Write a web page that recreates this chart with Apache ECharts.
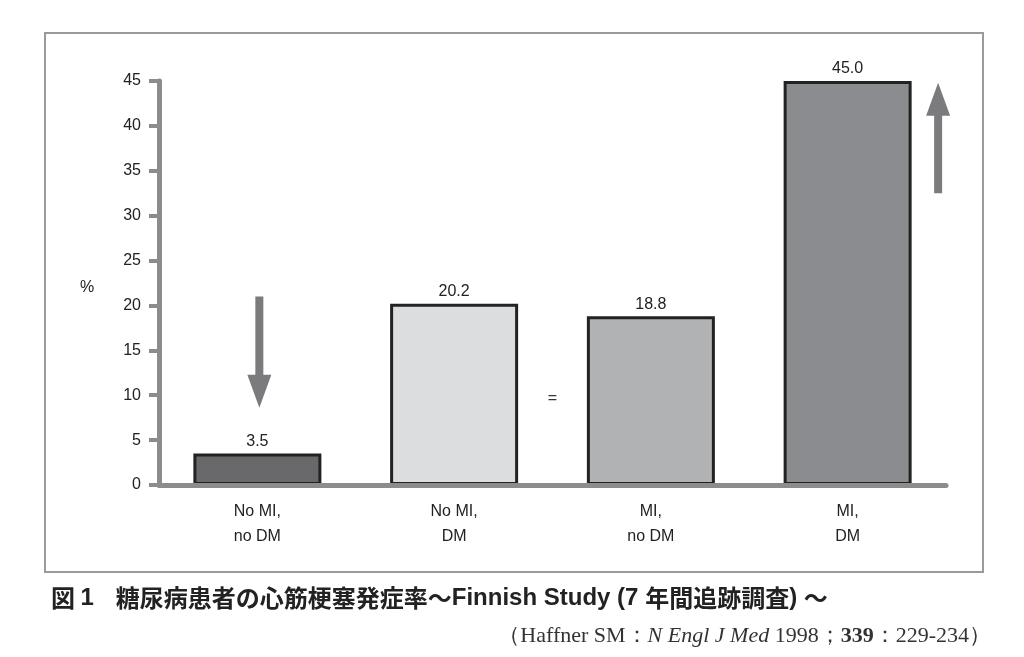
<!DOCTYPE html>
<html>
<head>
<meta charset="utf-8">
<script src="https://cdn.jsdelivr.net/npm/echarts@6/dist/echarts.min.js"></script>
<style>html,body{margin:0;padding:0;background:#fff;}#chart{width:1024px;height:657px;}</style>
</head>
<body>
<div id="chart"></div>
<script>
// Data
var categories = ['No MI,\nno DM', 'No MI,\nDM', 'MI,\nno DM', 'MI,\nDM'];
var values = [3.5, 20.2, 18.8, 45.0];
var barColors = ['#69696b', '#dcdddf', '#b1b2b4', '#8b8c8f'];
var yTicks = [0, 5, 10, 15, 20, 25, 30, 35, 40, 45];
// arrows: [x position (category units), y start, y end]
var arrows = [[0.01, 21, 8.6], [3.46, 32.5, 44.8]];
var equalSign = [[1.5, 9.6]];

var chart = echarts.init(document.getElementById('chart'));
var axisGray = '#8c8c8e';
var sans = '"Liberation Sans", Arial, sans-serif';
var serif = '"Liberation Serif", "DejaVu Serif", serif';
var cjk = '"Noto Sans CJK JP", sans-serif';

var option = {
  animation: false,
  backgroundColor: '#fff',
  grid: { left: 159, right: 78, top: 81, bottom: 172, containLabel: false },
  title: [
    {
      text: '{a|図 }{l|1}{g|}{a|糖尿病患者の心筋梗塞発症率～}{l|Finnish Study (7 }{a|年間追跡調査}{l|) }{a|～}',
      left: 46, top: 581,
      textStyle: {
        rich: {
          a: { fontFamily: cjk, fontWeight: 'bold', fontSize: 24, color: '#222' },
          l: { fontFamily: sans, fontWeight: 'bold', fontSize: 24, color: '#222' },
          g: { width: 22 }
        }
      }
    },
    {
      text: '{n|（Haffner SM：}{i|N Engl J Med}{n| 1998；}{b|339}{n|：229-234）}',
      right: 28, top: 620,
      textStyle: {
        rich: {
          n: { fontFamily: serif, fontSize: 22, fontWeight: 'normal', color: '#333' },
          i: { fontFamily: serif, fontSize: 22, fontWeight: 'normal', fontStyle: 'italic', color: '#333' },
          b: { fontFamily: serif, fontSize: 22, fontWeight: 'bold', color: '#333' }
        }
      }
    }
  ],
  graphic: [
    { type: 'rect', shape: { x: 45, y: 33, width: 938, height: 539 }, style: { fill: 'none', stroke: '#9a9a9a', lineWidth: 2 }, z: -1 },
    { type: 'text', left: 80, top: 280, style: { text: '%', font: '16px "Liberation Sans", Arial, sans-serif', fill: '#222' } }
  ],
  xAxis: [
    {
      type: 'category', data: categories, z: 5,
      axisLine: { lineStyle: { color: axisGray, width: 5 } },
      axisTick: { show: false },
      axisLabel: { margin: 14, lineHeight: 25, fontSize: 16, color: '#222', fontFamily: sans }
    },
    { type: 'value', min: -0.5, max: 3.5, show: false }
  ],
  yAxis: {
    type: 'value', min: 0, max: 45, interval: 5, z: 5,
    axisLine: { show: true, onZero: false, lineStyle: { color: axisGray, width: 5 } },
    axisTick: { show: true, length: 10, lineStyle: { color: axisGray, width: 4 } },
    splitLine: { show: false },
    axisLabel: { margin: 18, fontSize: 16, color: '#222', fontFamily: sans,
      formatter: function (v) { return yTicks.indexOf(v) >= 0 ? String(v) : ''; } }
  },
  series: [
    {
      type: 'bar', xAxisIndex: 0, barWidth: 128,
      data: values.map(function (v, i) { return { value: v, itemStyle: { color: barColors[i] } }; }),
      itemStyle: { borderColor: '#222', borderWidth: 3 },
      label: { show: true, position: 'top', distance: 4, fontSize: 16, color: '#222', fontFamily: sans,
        formatter: function (p) { return p.value.toFixed(1); } }
    },
    {
      type: 'custom', xAxisIndex: 1, yAxisIndex: 0, z: 6,
      data: arrows,
      renderItem: function (params, api) {
        var p0 = api.coord([api.value(0), api.value(1)]);
        var p1 = api.coord([api.value(0), api.value(2)]);
        var dir = p1[1] > p0[1] ? 1 : -1;
        var headLen = 33, headHalf = 12, shaft = 4;
        var x = p0[0];
        var hy = p1[1] - dir * headLen;
        return {
          type: 'polygon',
          shape: { points: [
            [x - shaft, p0[1]], [x + shaft, p0[1]], [x + shaft, hy], [x + headHalf, hy],
            [x, p1[1]], [x - headHalf, hy], [x - shaft, hy]
          ] },
          style: { fill: '#7b7b7d' }
        };
      }
    },
    {
      type: 'custom', xAxisIndex: 1, yAxisIndex: 0, z: 6,
      data: equalSign,
      renderItem: function (params, api) {
        var p = api.coord([api.value(0), api.value(1)]);
        return { type: 'text', x: p[0], y: p[1], style: { text: '=', fill: '#333', font: '16px "Liberation Sans", Arial, sans-serif', align: 'center', verticalAlign: 'middle' } };
      }
    }
  ]
};
chart.setOption(option);
</script>
</body>
</html>
